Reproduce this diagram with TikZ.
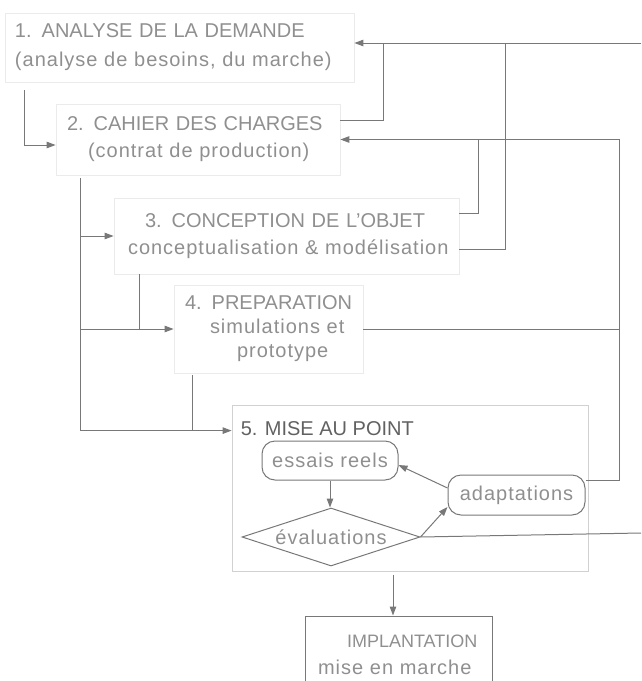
\documentclass[tikz,border=0pt]{standalone}
\usepackage{fontspec}
\setmainfont{Liberation Sans}
\usetikzlibrary{arrows.meta,shapes.geometric}
% lower-case lines are set slightly letter-spaced
\newcommand\lsp[1]{{\addfontfeature{LetterSpace=5}#1}}
\definecolor{wirec}{gray}{0.47}
\definecolor{txt}{gray}{0.56}
\definecolor{ttl}{gray}{0.38}
\definecolor{boxc}{gray}{0.92}
\definecolor{boxd}{gray}{0.82}
\begin{document}
\begin{tikzpicture}[x=1pt,y=-1pt,
  every node/.style={text=txt, font=\fontsize{20pt}{27pt}\selectfont},
  stage/.style={draw=boxc, line width=0.8pt, rectangle, align=left, inner ysep=0pt},
  wire/.style={draw=wirec, line width=1pt},
  arr/.style={wire, -{Triangle[length=9pt,width=6.5pt]}},
  pill/.style={draw=wirec, line width=1pt, rounded corners=13pt, inner sep=0pt}
]
\useasboundingbox (0,0) rectangle (641,681);
\clip (0,0) rectangle (641,681);

% ---- the five stages ----
\node[stage, font=\fontsize{20pt}{29pt}\selectfont, text width=329pt, inner xsep=10pt, minimum height=69pt]
  (n1) at (179.5,47.5) {\mbox{1. ANALYSE DE LA DEMANDE}\\\mbox{\lsp{(analyse de besoins, du marche)}}};
\node[stage, text width=262pt, inner xsep=11pt, minimum height=71pt]
  (n2) at (198,139.5) {\mbox{2. CAHIER DES CHARGES}\\\mbox{\hspace*{21pt}\lsp{(contrat de production)}}};
\node[stage, text width=333pt, inner xsep=6pt, minimum height=76pt]
  (n3) at (286.5,236) {\mbox{\hspace*{25pt}3. CONCEPTION DE L'OBJET}\\\mbox{\hspace*{8pt}\lsp{conceptualisation \& modélisation}}};
\node[stage, font=\fontsize{20pt}{24pt}\selectfont, text width=167pt, inner xsep=11pt, minimum height=88pt]
  (n4) at (268.5,329) {\mbox{4. PREPARATION}\\\mbox{\hspace*{25pt}\lsp{simulations et}}\\\mbox{\hspace*{52pt}\lsp{prototype}}};
\node[draw=boxd, line width=0.8pt, minimum width=356pt, minimum height=166pt, inner sep=0pt,
  label={[anchor=north west, inner sep=0pt, text=ttl, xshift=9pt, yshift=-17pt]north west:5. MISE AU POINT}]
  (n5) at (410,488) {};

% ---- inside stage 5 ----
\node[pill, minimum width=136pt, minimum height=39pt] (essais) at (330,460.5) {\lsp{essais reels}};
\node[pill, minimum width=137pt, minimum height=40pt] (adapt) at (516.5,495) {\lsp{adaptations}};
\node[diamond, draw=wirec, line width=1pt, aspect=3.07, inner sep=0pt,
  minimum width=178pt, minimum height=58pt] (diam) at (331,537) {\lsp{évaluations}};

% ---- final stage ----
\node[draw=wirec, line width=1pt, rectangle, align=left, text width=161pt, inner xsep=13pt,
  inner ysep=0pt, minimum height=78pt] (impl) at (398.5,655)
  {\mbox{\hspace*{29pt}{\fontsize{18pt}{26pt}\selectfont IMPLANTATION}}\\\mbox{\lsp{mise en marche}}};

% ---- feedback lines on the right ----
\coordinate (in1) at ([yshift=4.5pt]n1.east);
\coordinate (e1) at (641,43);
\coordinate (e2) at (641,533);
\draw[arr] (e1) -- (in1);
\draw[wire] ([yshift=19.5pt]n2.east) -| (383,43);
\draw[wire] ([yshift=-13pt]n3.east) -| (505,43);
\draw[wire] ([yshift=23pt]n3.east) -| (478,139.5);
\draw[arr] ([yshift=15pt]adapt.east) -| (619,139.5) -- (n2.east);
\draw[wire] (n4.east) -- (n4.east -| 619,0);
\draw[wire] (diam.east) -- (e2);

% ---- forward lines on the left ----
\draw[arr] ([xshift=20pt,yshift=-8pt]n1.south west) |- ([yshift=-5.5pt]n2.west);
\coordinate (sp) at ([xshift=25pt,yshift=-3pt]n2.south west);
\coordinate (in5) at ([yshift=-26pt]n5.north west);
\draw[arr] (sp) |- (in5);
\draw[arr] (sp |- n3.west) -- (n3.west);
\draw[arr] (sp |- n4.west) -- (n4.west);
\coordinate (o3) at ([xshift=26pt]n3.south west);
\draw[wire] (o3) -- (o3 |- n4.west);
\coordinate (o4) at ([xshift=19pt,yshift=-2pt]n4.south west);
\draw[wire] (o4) -- (o4 |- in5);

% ---- loop inside stage 5 ----
\draw[arr] (essais.south) -- (essais.south |- diam.north);
\draw[arr] (diam.east) -- ([yshift=-12pt]adapt.west);
\draw[arr] ([yshift=7pt]adapt.west) -- ([yshift=-4.5pt]essais.east);

% ---- to the final stage ----
\coordinate (o5) at ([xshift=-17pt,yshift=-4pt]n5.south);
\draw[arr] (o5) -- (o5 |- impl.north);
\end{tikzpicture}
\end{document}
